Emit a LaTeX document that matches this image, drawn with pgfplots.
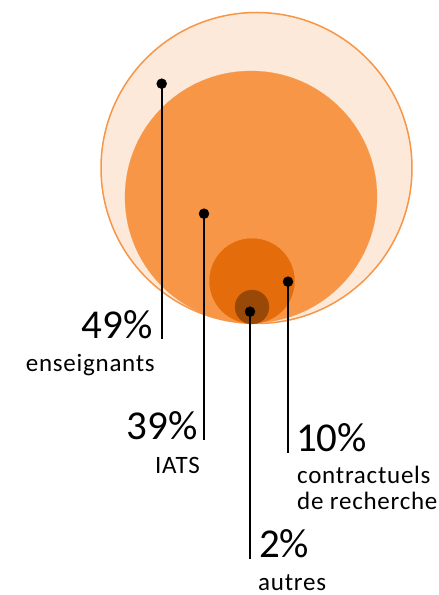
\documentclass[border=0pt]{standalone}
\usepackage{fontspec}
\setmainfont{Carlito}
\usepackage{pgfplots}
\usepackage{pgfplotstable}
\pgfplotsset{compat=1.18}
\definecolor{c1fill}{HTML}{FDE9D9}
\definecolor{c1draw}{HTML}{F79646}
\definecolor{c2}{HTML}{F79646}
\definecolor{c3}{HTML}{E46C0A}
\definecolor{c4}{HTML}{984807}
% x y radius (pixel units, y downward)
\pgfplotstableread{
x y r
256.5 168 155.5
}\cA
\pgfplotstableread{
x y r
251 197 126
}\cB
\pgfplotstableread{
x y r
252 281 42.5
}\cC
\pgfplotstableread{
x y r
252 307 17
}\cD
\pgfplotsset{bubble/.style 2 args={only marks, mark=*, scatter,
  scatter/use mapped color={draw=#1, fill=#2},
  visualization depends on={\thisrow{r}\as\rad},
  scatter/@pre marker code/.append style={/tikz/mark size=\rad}}}
\newfontfamily\lab[LetterSpace=3]{Carlito}
\begin{document}
\begin{tikzpicture}
\begin{axis}[width=439pt, height=595pt, scale only axis,
  xmin=0, xmax=439, ymin=0, ymax=595, y dir=reverse,
  hide axis, clip=false, set layers]
\path (rel axis cs:0,0) rectangle (rel axis cs:1,1);
\addplot[bubble={c1draw}{c1fill}, line width=1.5pt] table {\cA};
\addplot[bubble={c2}{c2}, line width=0.2pt] table {\cB};
\addplot[bubble={c3}{c3}, line width=0.2pt] table {\cC};
\addplot[bubble={c4}{c4}, line width=0.2pt] table {\cD};
\addplot[black, line width=2pt, on layer=axis foreground] coordinates {(161.7,83.7) (161.7,339)};
\addplot[black, line width=2pt, on layer=axis foreground] coordinates {(204,213.7) (204,440)};
\addplot[black, line width=2pt, on layer=axis foreground] coordinates {(288,281.7) (288,453)};
\addplot[black, line width=2pt, on layer=axis foreground] coordinates {(250,311.7) (250,559)};
\addplot[only marks, mark=*, mark size=5pt, black, on layer=axis foreground] coordinates {(161.7,83.7) (204,213.7) (288,281.7) (250,311.7)};
\node[anchor=base east, inner sep=0pt, font=\fontsize{41}{41}\selectfont] at (axis cs:153,339) {49\%};
\node[anchor=base east, inner sep=0pt, font=\lab\fontsize{25}{25}\selectfont] at (axis cs:155,372) {enseignants};
\node[anchor=base east, inner sep=0pt, font=\fontsize{41}{41}\selectfont] at (axis cs:198,440) {39\%};
\node[anchor=base east, inner sep=0pt, font=\lab\fontsize{25}{25}\selectfont] at (axis cs:200,474) {IATS};
\node[anchor=base west, inner sep=0pt, font=\fontsize{41}{41}\selectfont] at (axis cs:296,452) {10\%};
\node[anchor=base west, inner sep=0pt, font=\lab\fontsize{25}{25}\selectfont] at (axis cs:297,484) {contractuels};
\node[anchor=base west, inner sep=0pt, font=\lab\fontsize{25}{25}\selectfont] at (axis cs:297,510) {de recherche};
\node[anchor=base west, inner sep=0pt, font=\fontsize{41}{41}\selectfont] at (axis cs:259,558) {2\%};
\node[anchor=base west, inner sep=0pt, font=\lab\fontsize{25}{25}\selectfont] at (axis cs:258,590) {autres};
\end{axis}
\end{tikzpicture}
\end{document}
